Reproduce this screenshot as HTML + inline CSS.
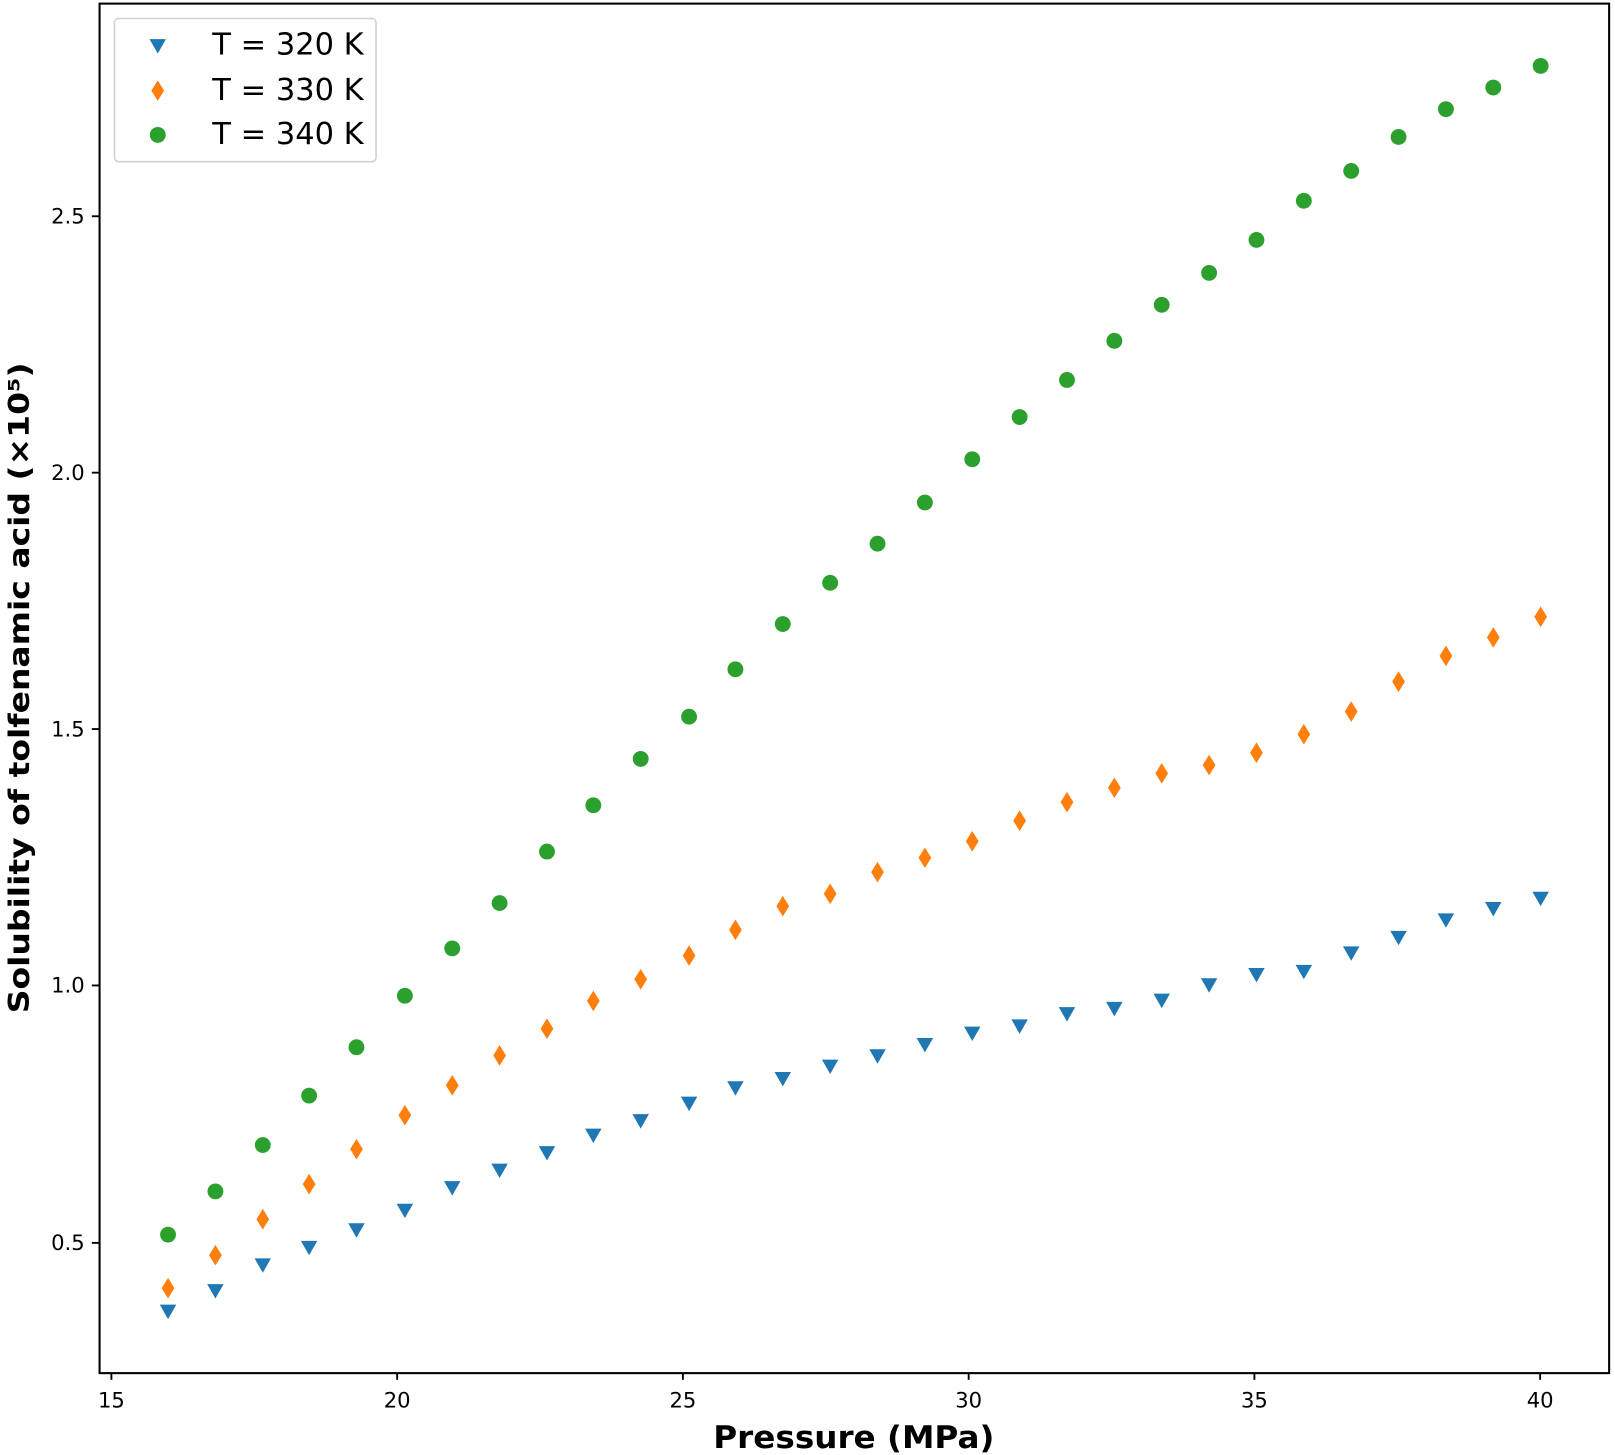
<!DOCTYPE html>
<html><head><meta charset="utf-8"><style>
html,body{margin:0;padding:0;background:#fff;}
svg{display:block;}
text{font-family:"DejaVu Sans","Liberation Sans",sans-serif;fill:#000;}
</style></head><body>
<svg width="1615" height="1455" viewBox="0 0 1568 1413" xmlns="http://www.w3.org/2000/svg">
<defs>
<path id="tri" d="M-8,-6 L8,-6 L0,8 Z" fill="#1f77b4"/>
<path id="dia" d="M0,-10 L6.2,0 L0,10 L-6.2,0 Z" fill="#ff7f0e"/>
<circle id="cir" r="7.7" fill="#2ca02c"/>
</defs>
<rect x="0" y="0" width="1568" height="1413" fill="#fff"/>
<rect x="96.5" y="3.5" width="1466" height="1330" fill="none" stroke="#000" stroke-width="2"/>
<g stroke="#000" stroke-width="1.8">
<line x1="108" y1="1333" x2="108" y2="1340"/>
<line x1="385.5" y1="1333" x2="385.5" y2="1340"/>
<line x1="663" y1="1333" x2="663" y2="1340"/>
<line x1="940.5" y1="1333" x2="940.5" y2="1340"/>
<line x1="1218" y1="1333" x2="1218" y2="1340"/>
<line x1="1495.5" y1="1333" x2="1495.5" y2="1340"/>
<line x1="89" y1="210" x2="96" y2="210"/>
<line x1="89" y1="459" x2="96" y2="459"/>
<line x1="89" y1="708" x2="96" y2="708"/>
<line x1="89" y1="957" x2="96" y2="957"/>
<line x1="89" y1="1207" x2="96" y2="1207"/>
</g>
<g font-size="20.5" text-anchor="middle">
<text x="108" y="1367">15</text>
<text x="385.5" y="1367">20</text>
<text x="663" y="1367">25</text>
<text x="940.5" y="1367">30</text>
<text x="1218" y="1367">35</text>
<text x="1495.5" y="1367">40</text>
</g>
<g font-size="20.5" text-anchor="end">
<text x="82" y="217">2.5</text>
<text x="82" y="466">2.0</text>
<text x="82" y="715">1.5</text>
<text x="82" y="964">1.0</text>
<text x="82" y="1214">0.5</text>
</g>
<text x="829" y="1406" font-size="30" font-weight="bold" text-anchor="middle" textLength="273" lengthAdjust="spacingAndGlyphs">Pressure (MPa)</text>
<text transform="translate(28,668) rotate(-90)" font-size="28" font-weight="bold" text-anchor="middle" textLength="632" lengthAdjust="spacingAndGlyphs">Solubility of tolfenamic acid (×10⁵)</text>

<g>
<use href="#cir" x="163" y="1199"/><use href="#cir" x="209" y="1157"/><use href="#cir" x="255" y="1112"/><use href="#cir" x="300" y="1064"/><use href="#cir" x="346" y="1017"/><use href="#cir" x="393" y="967"/><use href="#cir" x="439" y="921"/><use href="#cir" x="485" y="877"/><use href="#cir" x="531" y="827"/><use href="#cir" x="576" y="782"/>
<use href="#cir" x="622" y="737"/><use href="#cir" x="669" y="696"/><use href="#cir" x="714" y="650"/><use href="#cir" x="760" y="606"/><use href="#cir" x="806" y="566"/><use href="#cir" x="852" y="528"/><use href="#cir" x="898" y="488"/><use href="#cir" x="944" y="446"/><use href="#cir" x="990" y="405"/><use href="#cir" x="1036" y="369"/>
<use href="#cir" x="1082" y="331"/><use href="#cir" x="1128" y="296"/><use href="#cir" x="1174" y="265"/><use href="#cir" x="1220" y="233"/><use href="#cir" x="1266" y="195"/><use href="#cir" x="1312" y="166"/><use href="#cir" x="1358" y="133"/><use href="#cir" x="1404" y="106"/><use href="#cir" x="1450" y="85"/><use href="#cir" x="1496" y="64"/>
</g>
<g>
<use href="#dia" x="163" y="1251"/><use href="#dia" x="209" y="1219"/><use href="#dia" x="255" y="1184"/><use href="#dia" x="300" y="1150"/><use href="#dia" x="346" y="1116"/><use href="#dia" x="393" y="1083"/><use href="#dia" x="439" y="1054"/><use href="#dia" x="485" y="1025"/><use href="#dia" x="531" y="999"/><use href="#dia" x="576" y="972"/>
<use href="#dia" x="622" y="951"/><use href="#dia" x="669" y="928"/><use href="#dia" x="714" y="903"/><use href="#dia" x="760" y="880"/><use href="#dia" x="806" y="868"/><use href="#dia" x="852" y="847"/><use href="#dia" x="898" y="833"/><use href="#dia" x="944" y="817"/><use href="#dia" x="990" y="797"/><use href="#dia" x="1036" y="779"/>
<use href="#dia" x="1082" y="765"/><use href="#dia" x="1128" y="751"/><use href="#dia" x="1174" y="743"/><use href="#dia" x="1220" y="731"/><use href="#dia" x="1266" y="713"/><use href="#dia" x="1312" y="691"/><use href="#dia" x="1358" y="662"/><use href="#dia" x="1404" y="637"/><use href="#dia" x="1450" y="619"/><use href="#dia" x="1496" y="599"/>
</g>
<g>
<use href="#tri" x="163" y="1273"/><use href="#tri" x="209" y="1253"/><use href="#tri" x="255" y="1228"/><use href="#tri" x="300" y="1211"/><use href="#tri" x="346" y="1194"/><use href="#tri" x="393" y="1175"/><use href="#tri" x="439" y="1153"/><use href="#tri" x="485" y="1136"/><use href="#tri" x="531" y="1119"/><use href="#tri" x="576" y="1102"/>
<use href="#tri" x="622" y="1088"/><use href="#tri" x="669" y="1071"/><use href="#tri" x="714" y="1056"/><use href="#tri" x="760" y="1047"/><use href="#tri" x="806" y="1035"/><use href="#tri" x="852" y="1025"/><use href="#tri" x="898" y="1014"/><use href="#tri" x="944" y="1003"/><use href="#tri" x="990" y="996"/><use href="#tri" x="1036" y="984"/>
<use href="#tri" x="1082" y="979"/><use href="#tri" x="1128" y="971"/><use href="#tri" x="1174" y="956"/><use href="#tri" x="1220" y="946"/><use href="#tri" x="1266" y="943"/><use href="#tri" x="1312" y="925"/><use href="#tri" x="1358" y="910"/><use href="#tri" x="1404" y="893"/><use href="#tri" x="1450" y="882"/><use href="#tri" x="1496" y="872"/>
</g>
<rect x="111" y="18" width="254" height="139" rx="4" fill="#fff" fill-opacity="0.8" stroke="#d0d0d0" stroke-width="1.5"/>
<use href="#tri" x="153" y="44"/>
<use href="#dia" x="153" y="88"/>
<use href="#cir" x="153" y="131"/>
<g font-size="29">
<text x="206" y="53" textLength="147" lengthAdjust="spacingAndGlyphs">T = 320 K</text>
<text x="206" y="97" textLength="147" lengthAdjust="spacingAndGlyphs">T = 330 K</text>
<text x="206" y="140" textLength="147" lengthAdjust="spacingAndGlyphs">T = 340 K</text>
</g>
</svg>
</body></html>
